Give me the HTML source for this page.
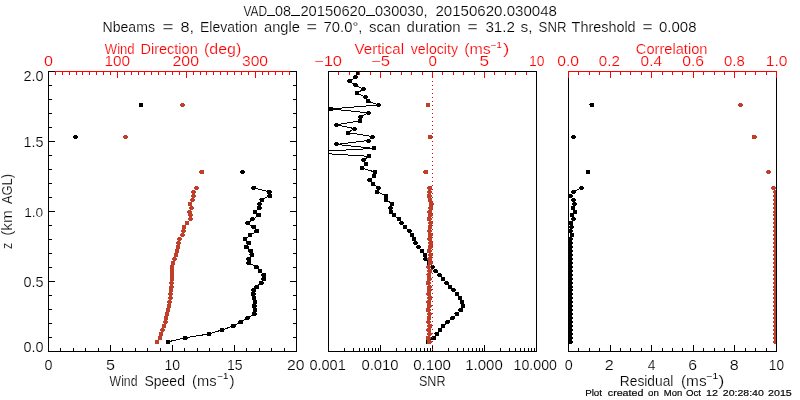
<!DOCTYPE html>
<html><head><meta charset="utf-8"><style>
html,body{margin:0;padding:0;background:#fff;}
svg{display:block;}
text{font-family:"Liberation Sans",sans-serif;}
#texts{filter:opacity(1);}
#texts text:not([stroke]){stroke:#fff;stroke-width:0.18px;}
</style></head><body>
<svg width="800" height="400" viewBox="0 0 800 400" shape-rendering="crispEdges">
<defs>
<clipPath id="c1"><rect x="48" y="71" width="249" height="281"/></clipPath>
<clipPath id="c2"><rect x="328" y="71" width="209" height="281"/></clipPath>
<clipPath id="c3"><rect x="568" y="71" width="209" height="281"/></clipPath>
</defs>
<rect width="800" height="400" fill="#fff"/>
<g id="data">
<g clip-path="url(#c1)">
<polyline points="168.00,341.80 185.40,337.85 209.10,333.91 222.00,329.96 233.20,326.01 240.60,322.06 247.50,318.12 254.40,314.17 255.00,310.22 254.40,306.28 255.00,302.33 254.00,298.38 253.10,294.44 253.75,290.49 256.90,286.54 261.25,282.60 263.75,278.65 263.75,274.70 260.00,270.75 256.25,266.81 248.75,262.86 248.75,258.91 251.90,254.97 250.60,251.02 246.25,247.07 248.75,243.12 245.00,239.18 250.00,235.23 256.90,231.28 253.75,227.34 247.50,223.39 252.50,219.44 258.75,215.50 255.00,211.55 259.40,207.60 259.50,203.66 261.90,199.71 269.75,195.76 269.40,191.81 253.60,187.87" fill="none" stroke="#000000" stroke-width="1"/>
<ellipse cx="168.00" cy="342" rx="2.6" ry="2.05" fill="#000000"/>
<ellipse cx="185.40" cy="338" rx="2.6" ry="2.05" fill="#000000"/>
<ellipse cx="209.10" cy="334" rx="2.6" ry="2.05" fill="#000000"/>
<ellipse cx="222.00" cy="330" rx="2.6" ry="2.05" fill="#000000"/>
<ellipse cx="233.20" cy="326" rx="2.6" ry="2.05" fill="#000000"/>
<ellipse cx="240.60" cy="322" rx="2.6" ry="2.05" fill="#000000"/>
<ellipse cx="247.50" cy="318" rx="2.6" ry="2.05" fill="#000000"/>
<ellipse cx="254.40" cy="314" rx="2.6" ry="2.05" fill="#000000"/>
<ellipse cx="255.00" cy="310" rx="2.6" ry="2.05" fill="#000000"/>
<ellipse cx="254.40" cy="306" rx="2.6" ry="2.05" fill="#000000"/>
<ellipse cx="255.00" cy="302" rx="2.6" ry="2.05" fill="#000000"/>
<ellipse cx="254.00" cy="298" rx="2.6" ry="2.05" fill="#000000"/>
<ellipse cx="253.10" cy="294" rx="2.6" ry="2.05" fill="#000000"/>
<ellipse cx="253.75" cy="290" rx="2.6" ry="2.05" fill="#000000"/>
<ellipse cx="256.90" cy="287" rx="2.6" ry="2.05" fill="#000000"/>
<ellipse cx="261.25" cy="283" rx="2.6" ry="2.05" fill="#000000"/>
<ellipse cx="263.75" cy="279" rx="2.6" ry="2.05" fill="#000000"/>
<ellipse cx="263.75" cy="275" rx="2.6" ry="2.05" fill="#000000"/>
<ellipse cx="260.00" cy="271" rx="2.6" ry="2.05" fill="#000000"/>
<ellipse cx="256.25" cy="267" rx="2.6" ry="2.05" fill="#000000"/>
<ellipse cx="248.75" cy="263" rx="2.6" ry="2.05" fill="#000000"/>
<ellipse cx="248.75" cy="259" rx="2.6" ry="2.05" fill="#000000"/>
<ellipse cx="251.90" cy="255" rx="2.6" ry="2.05" fill="#000000"/>
<ellipse cx="250.60" cy="251" rx="2.6" ry="2.05" fill="#000000"/>
<ellipse cx="246.25" cy="247" rx="2.6" ry="2.05" fill="#000000"/>
<ellipse cx="248.75" cy="243" rx="2.6" ry="2.05" fill="#000000"/>
<ellipse cx="245.00" cy="239" rx="2.6" ry="2.05" fill="#000000"/>
<ellipse cx="250.00" cy="235" rx="2.6" ry="2.05" fill="#000000"/>
<ellipse cx="256.90" cy="231" rx="2.6" ry="2.05" fill="#000000"/>
<ellipse cx="253.75" cy="227" rx="2.6" ry="2.05" fill="#000000"/>
<ellipse cx="247.50" cy="223" rx="2.6" ry="2.05" fill="#000000"/>
<ellipse cx="252.50" cy="219" rx="2.6" ry="2.05" fill="#000000"/>
<ellipse cx="258.75" cy="215" rx="2.6" ry="2.05" fill="#000000"/>
<ellipse cx="255.00" cy="212" rx="2.6" ry="2.05" fill="#000000"/>
<ellipse cx="259.40" cy="208" rx="2.6" ry="2.05" fill="#000000"/>
<ellipse cx="259.50" cy="204" rx="2.6" ry="2.05" fill="#000000"/>
<ellipse cx="261.90" cy="200" rx="2.6" ry="2.05" fill="#000000"/>
<ellipse cx="269.75" cy="196" rx="2.6" ry="2.05" fill="#000000"/>
<ellipse cx="269.40" cy="192" rx="2.6" ry="2.05" fill="#000000"/>
<ellipse cx="253.60" cy="188" rx="2.6" ry="2.05" fill="#000000"/>
<ellipse cx="242.50" cy="172" rx="2.6" ry="2.05" fill="#000000"/>
<ellipse cx="75.50" cy="137" rx="2.6" ry="2.05" fill="#000000"/>
<ellipse cx="141.00" cy="105" rx="2.6" ry="2.05" fill="#000000"/>
</g>
<g clip-path="url(#c1)">
<ellipse cx="157.00" cy="342" rx="2.6" ry="2.05" fill="#bf3f2a"/>
<ellipse cx="160.00" cy="338" rx="2.6" ry="2.05" fill="#bf3f2a"/>
<ellipse cx="161.00" cy="334" rx="2.6" ry="2.05" fill="#bf3f2a"/>
<ellipse cx="162.50" cy="330" rx="2.6" ry="2.05" fill="#bf3f2a"/>
<ellipse cx="164.00" cy="326" rx="2.6" ry="2.05" fill="#bf3f2a"/>
<ellipse cx="165.50" cy="322" rx="2.6" ry="2.05" fill="#bf3f2a"/>
<ellipse cx="166.00" cy="318" rx="2.6" ry="2.05" fill="#bf3f2a"/>
<ellipse cx="167.00" cy="314" rx="2.6" ry="2.05" fill="#bf3f2a"/>
<ellipse cx="168.00" cy="310" rx="2.6" ry="2.05" fill="#bf3f2a"/>
<ellipse cx="169.00" cy="306" rx="2.6" ry="2.05" fill="#bf3f2a"/>
<ellipse cx="169.50" cy="302" rx="2.6" ry="2.05" fill="#bf3f2a"/>
<ellipse cx="170.50" cy="298" rx="2.6" ry="2.05" fill="#bf3f2a"/>
<ellipse cx="170.50" cy="294" rx="2.6" ry="2.05" fill="#bf3f2a"/>
<ellipse cx="171.00" cy="290" rx="2.6" ry="2.05" fill="#bf3f2a"/>
<ellipse cx="171.50" cy="287" rx="2.6" ry="2.05" fill="#bf3f2a"/>
<ellipse cx="171.50" cy="283" rx="2.6" ry="2.05" fill="#bf3f2a"/>
<ellipse cx="172.00" cy="279" rx="2.6" ry="2.05" fill="#bf3f2a"/>
<ellipse cx="172.00" cy="275" rx="2.6" ry="2.05" fill="#bf3f2a"/>
<ellipse cx="172.00" cy="271" rx="2.6" ry="2.05" fill="#bf3f2a"/>
<ellipse cx="172.00" cy="267" rx="2.6" ry="2.05" fill="#bf3f2a"/>
<ellipse cx="173.00" cy="263" rx="2.6" ry="2.05" fill="#bf3f2a"/>
<ellipse cx="174.50" cy="259" rx="2.6" ry="2.05" fill="#bf3f2a"/>
<ellipse cx="176.00" cy="255" rx="2.6" ry="2.05" fill="#bf3f2a"/>
<ellipse cx="177.00" cy="251" rx="2.6" ry="2.05" fill="#bf3f2a"/>
<ellipse cx="178.00" cy="247" rx="2.6" ry="2.05" fill="#bf3f2a"/>
<ellipse cx="178.50" cy="243" rx="2.6" ry="2.05" fill="#bf3f2a"/>
<ellipse cx="179.50" cy="239" rx="2.6" ry="2.05" fill="#bf3f2a"/>
<ellipse cx="182.50" cy="235" rx="2.6" ry="2.05" fill="#bf3f2a"/>
<ellipse cx="183.50" cy="231" rx="2.6" ry="2.05" fill="#bf3f2a"/>
<ellipse cx="184.00" cy="227" rx="2.6" ry="2.05" fill="#bf3f2a"/>
<ellipse cx="187.00" cy="223" rx="2.6" ry="2.05" fill="#bf3f2a"/>
<ellipse cx="190.50" cy="219" rx="2.6" ry="2.05" fill="#bf3f2a"/>
<ellipse cx="190.50" cy="215" rx="2.6" ry="2.05" fill="#bf3f2a"/>
<ellipse cx="189.50" cy="212" rx="2.6" ry="2.05" fill="#bf3f2a"/>
<ellipse cx="191.50" cy="208" rx="2.6" ry="2.05" fill="#bf3f2a"/>
<ellipse cx="190.00" cy="204" rx="2.6" ry="2.05" fill="#bf3f2a"/>
<ellipse cx="192.50" cy="200" rx="2.6" ry="2.05" fill="#bf3f2a"/>
<ellipse cx="193.50" cy="196" rx="2.6" ry="2.05" fill="#bf3f2a"/>
<ellipse cx="193.50" cy="192" rx="2.6" ry="2.05" fill="#bf3f2a"/>
<ellipse cx="196.50" cy="188" rx="2.6" ry="2.05" fill="#bf3f2a"/>
<ellipse cx="201.70" cy="172" rx="2.6" ry="2.05" fill="#bf3f2a"/>
<ellipse cx="125.50" cy="137" rx="2.6" ry="2.05" fill="#bf3f2a"/>
<ellipse cx="182.50" cy="105" rx="2.6" ry="2.05" fill="#bf3f2a"/>
</g>
<g clip-path="url(#c2)">
<polyline points="428.00,341.80 433.75,337.85 436.90,333.91 440.00,329.96 443.10,326.01 447.50,322.06 452.50,318.12 456.90,314.17 460.60,310.22 463.00,306.28 462.00,302.33 460.00,298.38 457.00,294.44 453.50,290.49 450.00,286.54 446.50,282.60 443.00,278.65 439.50,274.70 435.50,270.75 432.50,266.81 429.00,262.86 425.50,258.91 425.00,254.97 422.00,251.02 418.50,247.07 415.50,243.12 414.00,239.18 412.00,235.23 409.50,231.28 405.00,227.34 401.50,223.39 399.00,219.44 394.00,215.50 391.00,211.55 390.50,207.60 392.00,203.66 386.00,199.71 386.00,195.76 377.00,191.81 378.50,187.87 373.00,183.92 369.50,179.97 374.00,176.03 375.00,172.08 362.00,168.13 366.00,164.19 363.50,160.24 369.00,156.29 305.00,152.34 374.00,148.40 336.50,144.45 368.50,140.50 372.50,136.56 348.00,132.61 354.50,128.66 336.50,124.72 360.00,120.77 360.50,116.82 368.50,112.87 331.00,108.93 378.50,104.98 368.00,101.03 365.50,97.09 357.00,93.14 363.50,89.19 355.50,85.25 349.50,81.30 355.50,77.35 358.00,73.40" fill="none" stroke="#000000" stroke-width="1"/>
<ellipse cx="428.00" cy="342" rx="2.6" ry="2.05" fill="#000000"/>
<ellipse cx="433.75" cy="338" rx="2.6" ry="2.05" fill="#000000"/>
<ellipse cx="436.90" cy="334" rx="2.6" ry="2.05" fill="#000000"/>
<ellipse cx="440.00" cy="330" rx="2.6" ry="2.05" fill="#000000"/>
<ellipse cx="443.10" cy="326" rx="2.6" ry="2.05" fill="#000000"/>
<ellipse cx="447.50" cy="322" rx="2.6" ry="2.05" fill="#000000"/>
<ellipse cx="452.50" cy="318" rx="2.6" ry="2.05" fill="#000000"/>
<ellipse cx="456.90" cy="314" rx="2.6" ry="2.05" fill="#000000"/>
<ellipse cx="460.60" cy="310" rx="2.6" ry="2.05" fill="#000000"/>
<ellipse cx="463.00" cy="306" rx="2.6" ry="2.05" fill="#000000"/>
<ellipse cx="462.00" cy="302" rx="2.6" ry="2.05" fill="#000000"/>
<ellipse cx="460.00" cy="298" rx="2.6" ry="2.05" fill="#000000"/>
<ellipse cx="457.00" cy="294" rx="2.6" ry="2.05" fill="#000000"/>
<ellipse cx="453.50" cy="290" rx="2.6" ry="2.05" fill="#000000"/>
<ellipse cx="450.00" cy="287" rx="2.6" ry="2.05" fill="#000000"/>
<ellipse cx="446.50" cy="283" rx="2.6" ry="2.05" fill="#000000"/>
<ellipse cx="443.00" cy="279" rx="2.6" ry="2.05" fill="#000000"/>
<ellipse cx="439.50" cy="275" rx="2.6" ry="2.05" fill="#000000"/>
<ellipse cx="435.50" cy="271" rx="2.6" ry="2.05" fill="#000000"/>
<ellipse cx="432.50" cy="267" rx="2.6" ry="2.05" fill="#000000"/>
<ellipse cx="429.00" cy="263" rx="2.6" ry="2.05" fill="#000000"/>
<ellipse cx="425.50" cy="259" rx="2.6" ry="2.05" fill="#000000"/>
<ellipse cx="425.00" cy="255" rx="2.6" ry="2.05" fill="#000000"/>
<ellipse cx="422.00" cy="251" rx="2.6" ry="2.05" fill="#000000"/>
<ellipse cx="418.50" cy="247" rx="2.6" ry="2.05" fill="#000000"/>
<ellipse cx="415.50" cy="243" rx="2.6" ry="2.05" fill="#000000"/>
<ellipse cx="414.00" cy="239" rx="2.6" ry="2.05" fill="#000000"/>
<ellipse cx="412.00" cy="235" rx="2.6" ry="2.05" fill="#000000"/>
<ellipse cx="409.50" cy="231" rx="2.6" ry="2.05" fill="#000000"/>
<ellipse cx="405.00" cy="227" rx="2.6" ry="2.05" fill="#000000"/>
<ellipse cx="401.50" cy="223" rx="2.6" ry="2.05" fill="#000000"/>
<ellipse cx="399.00" cy="219" rx="2.6" ry="2.05" fill="#000000"/>
<ellipse cx="394.00" cy="215" rx="2.6" ry="2.05" fill="#000000"/>
<ellipse cx="391.00" cy="212" rx="2.6" ry="2.05" fill="#000000"/>
<ellipse cx="390.50" cy="208" rx="2.6" ry="2.05" fill="#000000"/>
<ellipse cx="392.00" cy="204" rx="2.6" ry="2.05" fill="#000000"/>
<ellipse cx="386.00" cy="200" rx="2.6" ry="2.05" fill="#000000"/>
<ellipse cx="386.00" cy="196" rx="2.6" ry="2.05" fill="#000000"/>
<ellipse cx="377.00" cy="192" rx="2.6" ry="2.05" fill="#000000"/>
<ellipse cx="378.50" cy="188" rx="2.6" ry="2.05" fill="#000000"/>
<ellipse cx="373.00" cy="184" rx="2.6" ry="2.05" fill="#000000"/>
<ellipse cx="369.50" cy="180" rx="2.6" ry="2.05" fill="#000000"/>
<ellipse cx="374.00" cy="176" rx="2.6" ry="2.05" fill="#000000"/>
<ellipse cx="375.00" cy="172" rx="2.6" ry="2.05" fill="#000000"/>
<ellipse cx="362.00" cy="168" rx="2.6" ry="2.05" fill="#000000"/>
<ellipse cx="366.00" cy="164" rx="2.6" ry="2.05" fill="#000000"/>
<ellipse cx="363.50" cy="160" rx="2.6" ry="2.05" fill="#000000"/>
<ellipse cx="369.00" cy="156" rx="2.6" ry="2.05" fill="#000000"/>
<ellipse cx="305.00" cy="152" rx="2.6" ry="2.05" fill="#000000"/>
<ellipse cx="374.00" cy="148" rx="2.6" ry="2.05" fill="#000000"/>
<ellipse cx="336.50" cy="144" rx="2.6" ry="2.05" fill="#000000"/>
<ellipse cx="368.50" cy="141" rx="2.6" ry="2.05" fill="#000000"/>
<ellipse cx="372.50" cy="137" rx="2.6" ry="2.05" fill="#000000"/>
<ellipse cx="348.00" cy="133" rx="2.6" ry="2.05" fill="#000000"/>
<ellipse cx="354.50" cy="129" rx="2.6" ry="2.05" fill="#000000"/>
<ellipse cx="336.50" cy="125" rx="2.6" ry="2.05" fill="#000000"/>
<ellipse cx="360.00" cy="121" rx="2.6" ry="2.05" fill="#000000"/>
<ellipse cx="360.50" cy="117" rx="2.6" ry="2.05" fill="#000000"/>
<ellipse cx="368.50" cy="113" rx="2.6" ry="2.05" fill="#000000"/>
<ellipse cx="331.00" cy="109" rx="2.6" ry="2.05" fill="#000000"/>
<ellipse cx="378.50" cy="105" rx="2.6" ry="2.05" fill="#000000"/>
<ellipse cx="368.00" cy="101" rx="2.6" ry="2.05" fill="#000000"/>
<ellipse cx="365.50" cy="97" rx="2.6" ry="2.05" fill="#000000"/>
<ellipse cx="357.00" cy="93" rx="2.6" ry="2.05" fill="#000000"/>
<ellipse cx="363.50" cy="89" rx="2.6" ry="2.05" fill="#000000"/>
<ellipse cx="355.50" cy="85" rx="2.6" ry="2.05" fill="#000000"/>
<ellipse cx="349.50" cy="81" rx="2.6" ry="2.05" fill="#000000"/>
<ellipse cx="355.50" cy="77" rx="2.6" ry="2.05" fill="#000000"/>
<ellipse cx="358.00" cy="73" rx="2.6" ry="2.05" fill="#000000"/>
</g>
<g clip-path="url(#c2)">
<ellipse cx="429.30" cy="342" rx="2.6" ry="2.05" fill="#bf3f2a"/>
<ellipse cx="428.40" cy="338" rx="2.6" ry="2.05" fill="#bf3f2a"/>
<ellipse cx="429.50" cy="334" rx="2.6" ry="2.05" fill="#bf3f2a"/>
<ellipse cx="428.80" cy="330" rx="2.6" ry="2.05" fill="#bf3f2a"/>
<ellipse cx="429.60" cy="326" rx="2.6" ry="2.05" fill="#bf3f2a"/>
<ellipse cx="428.50" cy="322" rx="2.6" ry="2.05" fill="#bf3f2a"/>
<ellipse cx="429.10" cy="318" rx="2.6" ry="2.05" fill="#bf3f2a"/>
<ellipse cx="429.50" cy="314" rx="2.6" ry="2.05" fill="#bf3f2a"/>
<ellipse cx="428.40" cy="310" rx="2.6" ry="2.05" fill="#bf3f2a"/>
<ellipse cx="429.30" cy="306" rx="2.6" ry="2.05" fill="#bf3f2a"/>
<ellipse cx="428.70" cy="302" rx="2.6" ry="2.05" fill="#bf3f2a"/>
<ellipse cx="429.60" cy="298" rx="2.6" ry="2.05" fill="#bf3f2a"/>
<ellipse cx="428.60" cy="294" rx="2.6" ry="2.05" fill="#bf3f2a"/>
<ellipse cx="429.20" cy="290" rx="2.6" ry="2.05" fill="#bf3f2a"/>
<ellipse cx="429.50" cy="287" rx="2.6" ry="2.05" fill="#bf3f2a"/>
<ellipse cx="428.40" cy="283" rx="2.6" ry="2.05" fill="#bf3f2a"/>
<ellipse cx="429.40" cy="279" rx="2.6" ry="2.05" fill="#bf3f2a"/>
<ellipse cx="428.90" cy="275" rx="2.6" ry="2.05" fill="#bf3f2a"/>
<ellipse cx="429.60" cy="271" rx="2.6" ry="2.05" fill="#bf3f2a"/>
<ellipse cx="428.50" cy="267" rx="2.6" ry="2.05" fill="#bf3f2a"/>
<ellipse cx="430.30" cy="263" rx="2.6" ry="2.05" fill="#bf3f2a"/>
<ellipse cx="429.60" cy="259" rx="2.6" ry="2.05" fill="#bf3f2a"/>
<ellipse cx="430.50" cy="255" rx="2.6" ry="2.05" fill="#bf3f2a"/>
<ellipse cx="429.40" cy="251" rx="2.6" ry="2.05" fill="#bf3f2a"/>
<ellipse cx="430.20" cy="247" rx="2.6" ry="2.05" fill="#bf3f2a"/>
<ellipse cx="430.60" cy="243" rx="2.6" ry="2.05" fill="#bf3f2a"/>
<ellipse cx="429.70" cy="239" rx="2.6" ry="2.05" fill="#bf3f2a"/>
<ellipse cx="430.40" cy="235" rx="2.6" ry="2.05" fill="#bf3f2a"/>
<ellipse cx="429.50" cy="231" rx="2.6" ry="2.05" fill="#bf3f2a"/>
<ellipse cx="430.10" cy="227" rx="2.6" ry="2.05" fill="#bf3f2a"/>
<ellipse cx="430.50" cy="223" rx="2.6" ry="2.05" fill="#bf3f2a"/>
<ellipse cx="429.40" cy="219" rx="2.6" ry="2.05" fill="#bf3f2a"/>
<ellipse cx="430.30" cy="215" rx="2.6" ry="2.05" fill="#bf3f2a"/>
<ellipse cx="429.80" cy="212" rx="2.6" ry="2.05" fill="#bf3f2a"/>
<ellipse cx="430.60" cy="208" rx="2.6" ry="2.05" fill="#bf3f2a"/>
<ellipse cx="431.25" cy="204" rx="2.6" ry="2.05" fill="#bf3f2a"/>
<ellipse cx="430.00" cy="200" rx="2.6" ry="2.05" fill="#bf3f2a"/>
<ellipse cx="429.40" cy="196" rx="2.6" ry="2.05" fill="#bf3f2a"/>
<ellipse cx="429.50" cy="192" rx="2.6" ry="2.05" fill="#bf3f2a"/>
<ellipse cx="429.60" cy="188" rx="2.6" ry="2.05" fill="#bf3f2a"/>
<ellipse cx="425.60" cy="172" rx="2.6" ry="2.05" fill="#bf3f2a"/>
<ellipse cx="430.20" cy="137" rx="2.6" ry="2.05" fill="#bf3f2a"/>
<ellipse cx="428.00" cy="105" rx="2.6" ry="2.05" fill="#bf3f2a"/>
</g>
<g clip-path="url(#c3)">
<polyline points="570.50,341.80 570.50,337.85 570.50,333.91 570.50,329.96 570.50,326.01 570.50,322.06 570.50,318.12 570.50,314.17 570.50,310.22 570.50,306.28 570.50,302.33 570.50,298.38 570.50,294.44 570.50,290.49 570.50,286.54 570.50,282.60 570.50,278.65 570.50,274.70 570.50,270.75 570.50,266.81 570.50,262.86 570.50,258.91 570.50,254.97 570.50,251.02 570.50,247.07 570.50,243.12 570.50,239.18 572.00,235.23 570.50,231.28 571.50,227.34 571.00,223.39 573.50,219.44 572.00,215.50 575.00,211.55 573.00,207.60 574.50,203.66 573.50,199.71 570.50,195.76 573.50,191.81 581.50,187.87" fill="none" stroke="#000000" stroke-width="1"/>
<ellipse cx="570.50" cy="342" rx="2.6" ry="2.05" fill="#000000"/>
<ellipse cx="570.50" cy="338" rx="2.6" ry="2.05" fill="#000000"/>
<ellipse cx="570.50" cy="334" rx="2.6" ry="2.05" fill="#000000"/>
<ellipse cx="570.50" cy="330" rx="2.6" ry="2.05" fill="#000000"/>
<ellipse cx="570.50" cy="326" rx="2.6" ry="2.05" fill="#000000"/>
<ellipse cx="570.50" cy="322" rx="2.6" ry="2.05" fill="#000000"/>
<ellipse cx="570.50" cy="318" rx="2.6" ry="2.05" fill="#000000"/>
<ellipse cx="570.50" cy="314" rx="2.6" ry="2.05" fill="#000000"/>
<ellipse cx="570.50" cy="310" rx="2.6" ry="2.05" fill="#000000"/>
<ellipse cx="570.50" cy="306" rx="2.6" ry="2.05" fill="#000000"/>
<ellipse cx="570.50" cy="302" rx="2.6" ry="2.05" fill="#000000"/>
<ellipse cx="570.50" cy="298" rx="2.6" ry="2.05" fill="#000000"/>
<ellipse cx="570.50" cy="294" rx="2.6" ry="2.05" fill="#000000"/>
<ellipse cx="570.50" cy="290" rx="2.6" ry="2.05" fill="#000000"/>
<ellipse cx="570.50" cy="287" rx="2.6" ry="2.05" fill="#000000"/>
<ellipse cx="570.50" cy="283" rx="2.6" ry="2.05" fill="#000000"/>
<ellipse cx="570.50" cy="279" rx="2.6" ry="2.05" fill="#000000"/>
<ellipse cx="570.50" cy="275" rx="2.6" ry="2.05" fill="#000000"/>
<ellipse cx="570.50" cy="271" rx="2.6" ry="2.05" fill="#000000"/>
<ellipse cx="570.50" cy="267" rx="2.6" ry="2.05" fill="#000000"/>
<ellipse cx="570.50" cy="263" rx="2.6" ry="2.05" fill="#000000"/>
<ellipse cx="570.50" cy="259" rx="2.6" ry="2.05" fill="#000000"/>
<ellipse cx="570.50" cy="255" rx="2.6" ry="2.05" fill="#000000"/>
<ellipse cx="570.50" cy="251" rx="2.6" ry="2.05" fill="#000000"/>
<ellipse cx="570.50" cy="247" rx="2.6" ry="2.05" fill="#000000"/>
<ellipse cx="570.50" cy="243" rx="2.6" ry="2.05" fill="#000000"/>
<ellipse cx="570.50" cy="239" rx="2.6" ry="2.05" fill="#000000"/>
<ellipse cx="572.00" cy="235" rx="2.6" ry="2.05" fill="#000000"/>
<ellipse cx="570.50" cy="231" rx="2.6" ry="2.05" fill="#000000"/>
<ellipse cx="571.50" cy="227" rx="2.6" ry="2.05" fill="#000000"/>
<ellipse cx="571.00" cy="223" rx="2.6" ry="2.05" fill="#000000"/>
<ellipse cx="573.50" cy="219" rx="2.6" ry="2.05" fill="#000000"/>
<ellipse cx="572.00" cy="215" rx="2.6" ry="2.05" fill="#000000"/>
<ellipse cx="575.00" cy="212" rx="2.6" ry="2.05" fill="#000000"/>
<ellipse cx="573.00" cy="208" rx="2.6" ry="2.05" fill="#000000"/>
<ellipse cx="574.50" cy="204" rx="2.6" ry="2.05" fill="#000000"/>
<ellipse cx="573.50" cy="200" rx="2.6" ry="2.05" fill="#000000"/>
<ellipse cx="570.50" cy="196" rx="2.6" ry="2.05" fill="#000000"/>
<ellipse cx="573.50" cy="192" rx="2.6" ry="2.05" fill="#000000"/>
<ellipse cx="581.50" cy="188" rx="2.6" ry="2.05" fill="#000000"/>
<ellipse cx="588.00" cy="172" rx="2.6" ry="2.05" fill="#000000"/>
<ellipse cx="573.50" cy="137" rx="2.6" ry="2.05" fill="#000000"/>
<ellipse cx="591.90" cy="105" rx="2.6" ry="2.05" fill="#000000"/>
</g>
<g clip-path="url(#c3)">
<ellipse cx="775.60" cy="342" rx="2.6" ry="2.05" fill="#bf3f2a"/>
<ellipse cx="775.60" cy="338" rx="2.6" ry="2.05" fill="#bf3f2a"/>
<ellipse cx="775.60" cy="334" rx="2.6" ry="2.05" fill="#bf3f2a"/>
<ellipse cx="775.60" cy="330" rx="2.6" ry="2.05" fill="#bf3f2a"/>
<ellipse cx="775.60" cy="326" rx="2.6" ry="2.05" fill="#bf3f2a"/>
<ellipse cx="775.60" cy="322" rx="2.6" ry="2.05" fill="#bf3f2a"/>
<ellipse cx="775.60" cy="318" rx="2.6" ry="2.05" fill="#bf3f2a"/>
<ellipse cx="775.60" cy="314" rx="2.6" ry="2.05" fill="#bf3f2a"/>
<ellipse cx="775.60" cy="310" rx="2.6" ry="2.05" fill="#bf3f2a"/>
<ellipse cx="775.60" cy="306" rx="2.6" ry="2.05" fill="#bf3f2a"/>
<ellipse cx="775.60" cy="302" rx="2.6" ry="2.05" fill="#bf3f2a"/>
<ellipse cx="775.60" cy="298" rx="2.6" ry="2.05" fill="#bf3f2a"/>
<ellipse cx="775.60" cy="294" rx="2.6" ry="2.05" fill="#bf3f2a"/>
<ellipse cx="775.60" cy="290" rx="2.6" ry="2.05" fill="#bf3f2a"/>
<ellipse cx="775.60" cy="287" rx="2.6" ry="2.05" fill="#bf3f2a"/>
<ellipse cx="775.60" cy="283" rx="2.6" ry="2.05" fill="#bf3f2a"/>
<ellipse cx="775.60" cy="279" rx="2.6" ry="2.05" fill="#bf3f2a"/>
<ellipse cx="775.60" cy="275" rx="2.6" ry="2.05" fill="#bf3f2a"/>
<ellipse cx="775.60" cy="271" rx="2.6" ry="2.05" fill="#bf3f2a"/>
<ellipse cx="775.60" cy="267" rx="2.6" ry="2.05" fill="#bf3f2a"/>
<ellipse cx="775.60" cy="263" rx="2.6" ry="2.05" fill="#bf3f2a"/>
<ellipse cx="775.60" cy="259" rx="2.6" ry="2.05" fill="#bf3f2a"/>
<ellipse cx="775.60" cy="255" rx="2.6" ry="2.05" fill="#bf3f2a"/>
<ellipse cx="775.60" cy="251" rx="2.6" ry="2.05" fill="#bf3f2a"/>
<ellipse cx="775.60" cy="247" rx="2.6" ry="2.05" fill="#bf3f2a"/>
<ellipse cx="775.60" cy="243" rx="2.6" ry="2.05" fill="#bf3f2a"/>
<ellipse cx="775.60" cy="239" rx="2.6" ry="2.05" fill="#bf3f2a"/>
<ellipse cx="775.60" cy="235" rx="2.6" ry="2.05" fill="#bf3f2a"/>
<ellipse cx="775.60" cy="231" rx="2.6" ry="2.05" fill="#bf3f2a"/>
<ellipse cx="775.60" cy="227" rx="2.6" ry="2.05" fill="#bf3f2a"/>
<ellipse cx="775.60" cy="223" rx="2.6" ry="2.05" fill="#bf3f2a"/>
<ellipse cx="775.60" cy="219" rx="2.6" ry="2.05" fill="#bf3f2a"/>
<ellipse cx="775.60" cy="215" rx="2.6" ry="2.05" fill="#bf3f2a"/>
<ellipse cx="775.60" cy="212" rx="2.6" ry="2.05" fill="#bf3f2a"/>
<ellipse cx="775.60" cy="208" rx="2.6" ry="2.05" fill="#bf3f2a"/>
<ellipse cx="775.60" cy="204" rx="2.6" ry="2.05" fill="#bf3f2a"/>
<ellipse cx="775.60" cy="200" rx="2.6" ry="2.05" fill="#bf3f2a"/>
<ellipse cx="775.60" cy="196" rx="2.6" ry="2.05" fill="#bf3f2a"/>
<ellipse cx="775.60" cy="192" rx="2.6" ry="2.05" fill="#bf3f2a"/>
<ellipse cx="773.50" cy="188" rx="2.6" ry="2.05" fill="#bf3f2a"/>
<ellipse cx="768.50" cy="172" rx="2.6" ry="2.05" fill="#bf3f2a"/>
<ellipse cx="754.20" cy="137" rx="2.6" ry="2.05" fill="#bf3f2a"/>
<ellipse cx="740.50" cy="105" rx="2.6" ry="2.05" fill="#bf3f2a"/>
</g>
</g>
<g id="axes">
<rect x="48" y="71" width="1" height="281" fill="#000000"/>
<rect x="296" y="71" width="1" height="281" fill="#000000"/>
<rect x="48" y="351" width="249" height="1" fill="#000000"/>
<rect x="48" y="71" width="6" height="1" fill="#000000"/>
<rect x="54" y="71" width="237" height="1" fill="#ff0000"/>
<rect x="291" y="71" width="6" height="1" fill="#000000"/>
<rect x="49" y="351" width="6" height="1" fill="#000000"/>
<rect x="290" y="351" width="6" height="1" fill="#000000"/>
<rect x="49" y="337" width="3" height="1" fill="#000000"/>
<rect x="293" y="337" width="3" height="1" fill="#000000"/>
<rect x="49" y="323" width="3" height="1" fill="#000000"/>
<rect x="293" y="323" width="3" height="1" fill="#000000"/>
<rect x="49" y="309" width="3" height="1" fill="#000000"/>
<rect x="293" y="309" width="3" height="1" fill="#000000"/>
<rect x="49" y="295" width="3" height="1" fill="#000000"/>
<rect x="293" y="295" width="3" height="1" fill="#000000"/>
<rect x="49" y="281" width="6" height="1" fill="#000000"/>
<rect x="290" y="281" width="6" height="1" fill="#000000"/>
<rect x="49" y="267" width="3" height="1" fill="#000000"/>
<rect x="293" y="267" width="3" height="1" fill="#000000"/>
<rect x="49" y="253" width="3" height="1" fill="#000000"/>
<rect x="293" y="253" width="3" height="1" fill="#000000"/>
<rect x="49" y="239" width="3" height="1" fill="#000000"/>
<rect x="293" y="239" width="3" height="1" fill="#000000"/>
<rect x="49" y="225" width="3" height="1" fill="#000000"/>
<rect x="293" y="225" width="3" height="1" fill="#000000"/>
<rect x="49" y="211" width="6" height="1" fill="#000000"/>
<rect x="290" y="211" width="6" height="1" fill="#000000"/>
<rect x="49" y="197" width="3" height="1" fill="#000000"/>
<rect x="293" y="197" width="3" height="1" fill="#000000"/>
<rect x="49" y="183" width="3" height="1" fill="#000000"/>
<rect x="293" y="183" width="3" height="1" fill="#000000"/>
<rect x="49" y="169" width="3" height="1" fill="#000000"/>
<rect x="293" y="169" width="3" height="1" fill="#000000"/>
<rect x="49" y="155" width="3" height="1" fill="#000000"/>
<rect x="293" y="155" width="3" height="1" fill="#000000"/>
<rect x="49" y="141" width="6" height="1" fill="#000000"/>
<rect x="290" y="141" width="6" height="1" fill="#000000"/>
<rect x="49" y="127" width="3" height="1" fill="#000000"/>
<rect x="293" y="127" width="3" height="1" fill="#000000"/>
<rect x="49" y="113" width="3" height="1" fill="#000000"/>
<rect x="293" y="113" width="3" height="1" fill="#000000"/>
<rect x="49" y="99" width="3" height="1" fill="#000000"/>
<rect x="293" y="99" width="3" height="1" fill="#000000"/>
<rect x="49" y="85" width="3" height="1" fill="#000000"/>
<rect x="293" y="85" width="3" height="1" fill="#000000"/>
<rect x="49" y="71" width="6" height="1" fill="#000000"/>
<rect x="290" y="71" width="6" height="1" fill="#000000"/>
<rect x="48" y="345" width="1" height="6" fill="#000000"/>
<rect x="60" y="348" width="1" height="3" fill="#000000"/>
<rect x="73" y="348" width="1" height="3" fill="#000000"/>
<rect x="85" y="348" width="1" height="3" fill="#000000"/>
<rect x="98" y="348" width="1" height="3" fill="#000000"/>
<rect x="110" y="345" width="1" height="6" fill="#000000"/>
<rect x="122" y="348" width="1" height="3" fill="#000000"/>
<rect x="135" y="348" width="1" height="3" fill="#000000"/>
<rect x="147" y="348" width="1" height="3" fill="#000000"/>
<rect x="160" y="348" width="1" height="3" fill="#000000"/>
<rect x="172" y="345" width="1" height="6" fill="#000000"/>
<rect x="184" y="348" width="1" height="3" fill="#000000"/>
<rect x="197" y="348" width="1" height="3" fill="#000000"/>
<rect x="209" y="348" width="1" height="3" fill="#000000"/>
<rect x="222" y="348" width="1" height="3" fill="#000000"/>
<rect x="234" y="345" width="1" height="6" fill="#000000"/>
<rect x="246" y="348" width="1" height="3" fill="#000000"/>
<rect x="259" y="348" width="1" height="3" fill="#000000"/>
<rect x="271" y="348" width="1" height="3" fill="#000000"/>
<rect x="284" y="348" width="1" height="3" fill="#000000"/>
<rect x="296" y="345" width="1" height="6" fill="#000000"/>
<rect x="55" y="72" width="1" height="3" fill="#ff0000"/>
<rect x="62" y="72" width="1" height="3" fill="#ff0000"/>
<rect x="69" y="72" width="1" height="3" fill="#ff0000"/>
<rect x="76" y="72" width="1" height="3" fill="#ff0000"/>
<rect x="82" y="72" width="1" height="3" fill="#ff0000"/>
<rect x="89" y="72" width="1" height="3" fill="#ff0000"/>
<rect x="96" y="72" width="1" height="3" fill="#ff0000"/>
<rect x="103" y="72" width="1" height="3" fill="#ff0000"/>
<rect x="110" y="72" width="1" height="3" fill="#ff0000"/>
<rect x="117" y="72" width="1" height="6" fill="#ff0000"/>
<rect x="124" y="72" width="1" height="3" fill="#ff0000"/>
<rect x="131" y="72" width="1" height="3" fill="#ff0000"/>
<rect x="138" y="72" width="1" height="3" fill="#ff0000"/>
<rect x="144" y="72" width="1" height="3" fill="#ff0000"/>
<rect x="151" y="72" width="1" height="3" fill="#ff0000"/>
<rect x="158" y="72" width="1" height="3" fill="#ff0000"/>
<rect x="165" y="72" width="1" height="3" fill="#ff0000"/>
<rect x="172" y="72" width="1" height="3" fill="#ff0000"/>
<rect x="179" y="72" width="1" height="3" fill="#ff0000"/>
<rect x="186" y="72" width="1" height="6" fill="#ff0000"/>
<rect x="193" y="72" width="1" height="3" fill="#ff0000"/>
<rect x="200" y="72" width="1" height="3" fill="#ff0000"/>
<rect x="206" y="72" width="1" height="3" fill="#ff0000"/>
<rect x="213" y="72" width="1" height="3" fill="#ff0000"/>
<rect x="220" y="72" width="1" height="3" fill="#ff0000"/>
<rect x="227" y="72" width="1" height="3" fill="#ff0000"/>
<rect x="234" y="72" width="1" height="3" fill="#ff0000"/>
<rect x="241" y="72" width="1" height="3" fill="#ff0000"/>
<rect x="248" y="72" width="1" height="3" fill="#ff0000"/>
<rect x="255" y="72" width="1" height="6" fill="#ff0000"/>
<rect x="262" y="72" width="1" height="3" fill="#ff0000"/>
<rect x="268" y="72" width="1" height="3" fill="#ff0000"/>
<rect x="275" y="72" width="1" height="3" fill="#ff0000"/>
<rect x="282" y="72" width="1" height="3" fill="#ff0000"/>
<rect x="289" y="72" width="1" height="3" fill="#ff0000"/>
<rect x="328" y="71" width="1" height="281" fill="#000000"/>
<rect x="536" y="71" width="1" height="281" fill="#000000"/>
<rect x="328" y="351" width="209" height="1" fill="#000000"/>
<rect x="328" y="71" width="209" height="1" fill="#000000"/>
<rect x="344" y="348" width="1" height="3" fill="#000000"/>
<rect x="353" y="348" width="1" height="3" fill="#000000"/>
<rect x="359" y="348" width="1" height="3" fill="#000000"/>
<rect x="364" y="348" width="1" height="3" fill="#000000"/>
<rect x="368" y="348" width="1" height="3" fill="#000000"/>
<rect x="372" y="348" width="1" height="3" fill="#000000"/>
<rect x="375" y="348" width="1" height="3" fill="#000000"/>
<rect x="378" y="348" width="1" height="3" fill="#000000"/>
<rect x="380" y="345" width="1" height="6" fill="#000000"/>
<rect x="396" y="348" width="1" height="3" fill="#000000"/>
<rect x="405" y="348" width="1" height="3" fill="#000000"/>
<rect x="411" y="348" width="1" height="3" fill="#000000"/>
<rect x="416" y="348" width="1" height="3" fill="#000000"/>
<rect x="420" y="348" width="1" height="3" fill="#000000"/>
<rect x="424" y="348" width="1" height="3" fill="#000000"/>
<rect x="427" y="348" width="1" height="3" fill="#000000"/>
<rect x="430" y="348" width="1" height="3" fill="#000000"/>
<rect x="432" y="345" width="1" height="6" fill="#000000"/>
<rect x="448" y="348" width="1" height="3" fill="#000000"/>
<rect x="457" y="348" width="1" height="3" fill="#000000"/>
<rect x="463" y="348" width="1" height="3" fill="#000000"/>
<rect x="468" y="348" width="1" height="3" fill="#000000"/>
<rect x="472" y="348" width="1" height="3" fill="#000000"/>
<rect x="476" y="348" width="1" height="3" fill="#000000"/>
<rect x="479" y="348" width="1" height="3" fill="#000000"/>
<rect x="482" y="348" width="1" height="3" fill="#000000"/>
<rect x="484" y="345" width="1" height="6" fill="#000000"/>
<rect x="500" y="348" width="1" height="3" fill="#000000"/>
<rect x="509" y="348" width="1" height="3" fill="#000000"/>
<rect x="515" y="348" width="1" height="3" fill="#000000"/>
<rect x="520" y="348" width="1" height="3" fill="#000000"/>
<rect x="524" y="348" width="1" height="3" fill="#000000"/>
<rect x="528" y="348" width="1" height="3" fill="#000000"/>
<rect x="531" y="348" width="1" height="3" fill="#000000"/>
<rect x="534" y="348" width="1" height="3" fill="#000000"/>
<rect x="536" y="345" width="1" height="6" fill="#000000"/>
<rect x="338" y="72" width="1" height="3" fill="#ff0000"/>
<rect x="349" y="72" width="1" height="3" fill="#ff0000"/>
<rect x="359" y="72" width="1" height="3" fill="#ff0000"/>
<rect x="370" y="72" width="1" height="3" fill="#ff0000"/>
<rect x="380" y="72" width="1" height="6" fill="#ff0000"/>
<rect x="390" y="72" width="1" height="3" fill="#ff0000"/>
<rect x="401" y="72" width="1" height="3" fill="#ff0000"/>
<rect x="411" y="72" width="1" height="3" fill="#ff0000"/>
<rect x="422" y="72" width="1" height="3" fill="#ff0000"/>
<rect x="432" y="72" width="1" height="6" fill="#ff0000"/>
<rect x="442" y="72" width="1" height="3" fill="#ff0000"/>
<rect x="453" y="72" width="1" height="3" fill="#ff0000"/>
<rect x="463" y="72" width="1" height="3" fill="#ff0000"/>
<rect x="474" y="72" width="1" height="3" fill="#ff0000"/>
<rect x="484" y="72" width="1" height="6" fill="#ff0000"/>
<rect x="494" y="72" width="1" height="3" fill="#ff0000"/>
<rect x="505" y="72" width="1" height="3" fill="#ff0000"/>
<rect x="515" y="72" width="1" height="3" fill="#ff0000"/>
<rect x="526" y="72" width="1" height="3" fill="#ff0000"/>
<rect x="432" y="73" width="1" height="1" fill="#ff0000"/>
<rect x="432" y="77" width="1" height="1" fill="#ff0000"/>
<rect x="432" y="81" width="1" height="1" fill="#ff0000"/>
<rect x="432" y="85" width="1" height="1" fill="#ff0000"/>
<rect x="432" y="89" width="1" height="1" fill="#ff0000"/>
<rect x="432" y="93" width="1" height="1" fill="#ff0000"/>
<rect x="432" y="97" width="1" height="1" fill="#ff0000"/>
<rect x="432" y="101" width="1" height="1" fill="#ff0000"/>
<rect x="432" y="105" width="1" height="1" fill="#ff0000"/>
<rect x="432" y="109" width="1" height="1" fill="#ff0000"/>
<rect x="432" y="113" width="1" height="1" fill="#ff0000"/>
<rect x="432" y="117" width="1" height="1" fill="#ff0000"/>
<rect x="432" y="121" width="1" height="1" fill="#ff0000"/>
<rect x="432" y="125" width="1" height="1" fill="#ff0000"/>
<rect x="432" y="129" width="1" height="1" fill="#ff0000"/>
<rect x="432" y="133" width="1" height="1" fill="#ff0000"/>
<rect x="432" y="137" width="1" height="1" fill="#ff0000"/>
<rect x="432" y="141" width="1" height="1" fill="#ff0000"/>
<rect x="432" y="145" width="1" height="1" fill="#ff0000"/>
<rect x="432" y="149" width="1" height="1" fill="#ff0000"/>
<rect x="432" y="153" width="1" height="1" fill="#ff0000"/>
<rect x="432" y="157" width="1" height="1" fill="#ff0000"/>
<rect x="432" y="161" width="1" height="1" fill="#ff0000"/>
<rect x="432" y="165" width="1" height="1" fill="#ff0000"/>
<rect x="432" y="169" width="1" height="1" fill="#ff0000"/>
<rect x="432" y="173" width="1" height="1" fill="#ff0000"/>
<rect x="432" y="177" width="1" height="1" fill="#ff0000"/>
<rect x="432" y="181" width="1" height="1" fill="#ff0000"/>
<rect x="432" y="185" width="1" height="1" fill="#ff0000"/>
<rect x="432" y="189" width="1" height="1" fill="#ff0000"/>
<rect x="432" y="193" width="1" height="1" fill="#ff0000"/>
<rect x="432" y="197" width="1" height="1" fill="#ff0000"/>
<rect x="432" y="201" width="1" height="1" fill="#ff0000"/>
<rect x="432" y="205" width="1" height="1" fill="#ff0000"/>
<rect x="432" y="209" width="1" height="1" fill="#ff0000"/>
<rect x="432" y="213" width="1" height="1" fill="#ff0000"/>
<rect x="432" y="217" width="1" height="1" fill="#ff0000"/>
<rect x="432" y="221" width="1" height="1" fill="#ff0000"/>
<rect x="432" y="225" width="1" height="1" fill="#ff0000"/>
<rect x="432" y="229" width="1" height="1" fill="#ff0000"/>
<rect x="432" y="233" width="1" height="1" fill="#ff0000"/>
<rect x="432" y="237" width="1" height="1" fill="#ff0000"/>
<rect x="432" y="241" width="1" height="1" fill="#ff0000"/>
<rect x="432" y="245" width="1" height="1" fill="#ff0000"/>
<rect x="432" y="249" width="1" height="1" fill="#ff0000"/>
<rect x="432" y="253" width="1" height="1" fill="#ff0000"/>
<rect x="432" y="257" width="1" height="1" fill="#ff0000"/>
<rect x="432" y="261" width="1" height="1" fill="#ff0000"/>
<rect x="432" y="265" width="1" height="1" fill="#ff0000"/>
<rect x="432" y="269" width="1" height="1" fill="#ff0000"/>
<rect x="432" y="273" width="1" height="1" fill="#ff0000"/>
<rect x="432" y="277" width="1" height="1" fill="#ff0000"/>
<rect x="432" y="281" width="1" height="1" fill="#ff0000"/>
<rect x="432" y="285" width="1" height="1" fill="#ff0000"/>
<rect x="432" y="289" width="1" height="1" fill="#ff0000"/>
<rect x="432" y="293" width="1" height="1" fill="#ff0000"/>
<rect x="432" y="297" width="1" height="1" fill="#ff0000"/>
<rect x="432" y="301" width="1" height="1" fill="#ff0000"/>
<rect x="432" y="305" width="1" height="1" fill="#ff0000"/>
<rect x="432" y="309" width="1" height="1" fill="#ff0000"/>
<rect x="432" y="313" width="1" height="1" fill="#ff0000"/>
<rect x="432" y="317" width="1" height="1" fill="#ff0000"/>
<rect x="432" y="321" width="1" height="1" fill="#ff0000"/>
<rect x="432" y="325" width="1" height="1" fill="#ff0000"/>
<rect x="432" y="329" width="1" height="1" fill="#ff0000"/>
<rect x="432" y="333" width="1" height="1" fill="#ff0000"/>
<rect x="432" y="337" width="1" height="1" fill="#ff0000"/>
<rect x="432" y="341" width="1" height="1" fill="#ff0000"/>
<rect x="432" y="345" width="1" height="1" fill="#ff0000"/>
<rect x="432" y="349" width="1" height="1" fill="#ff0000"/>
<rect x="568" y="71" width="1" height="281" fill="#000000"/>
<rect x="776" y="71" width="1" height="281" fill="#000000"/>
<rect x="568" y="351" width="209" height="1" fill="#000000"/>
<rect x="568" y="71" width="209" height="1" fill="#ff0000"/>
<rect x="568" y="345" width="1" height="6" fill="#000000"/>
<rect x="578" y="348" width="1" height="3" fill="#000000"/>
<rect x="589" y="348" width="1" height="3" fill="#000000"/>
<rect x="599" y="348" width="1" height="3" fill="#000000"/>
<rect x="610" y="345" width="1" height="6" fill="#000000"/>
<rect x="620" y="348" width="1" height="3" fill="#000000"/>
<rect x="630" y="348" width="1" height="3" fill="#000000"/>
<rect x="641" y="348" width="1" height="3" fill="#000000"/>
<rect x="651" y="345" width="1" height="6" fill="#000000"/>
<rect x="662" y="348" width="1" height="3" fill="#000000"/>
<rect x="672" y="348" width="1" height="3" fill="#000000"/>
<rect x="682" y="348" width="1" height="3" fill="#000000"/>
<rect x="693" y="345" width="1" height="6" fill="#000000"/>
<rect x="703" y="348" width="1" height="3" fill="#000000"/>
<rect x="714" y="348" width="1" height="3" fill="#000000"/>
<rect x="724" y="348" width="1" height="3" fill="#000000"/>
<rect x="734" y="345" width="1" height="6" fill="#000000"/>
<rect x="745" y="348" width="1" height="3" fill="#000000"/>
<rect x="755" y="348" width="1" height="3" fill="#000000"/>
<rect x="766" y="348" width="1" height="3" fill="#000000"/>
<rect x="776" y="345" width="1" height="6" fill="#000000"/>
<rect x="568" y="72" width="1" height="6" fill="#ff0000"/>
<rect x="578" y="72" width="1" height="3" fill="#ff0000"/>
<rect x="589" y="72" width="1" height="3" fill="#ff0000"/>
<rect x="599" y="72" width="1" height="3" fill="#ff0000"/>
<rect x="610" y="72" width="1" height="6" fill="#ff0000"/>
<rect x="620" y="72" width="1" height="3" fill="#ff0000"/>
<rect x="630" y="72" width="1" height="3" fill="#ff0000"/>
<rect x="641" y="72" width="1" height="3" fill="#ff0000"/>
<rect x="651" y="72" width="1" height="6" fill="#ff0000"/>
<rect x="662" y="72" width="1" height="3" fill="#ff0000"/>
<rect x="672" y="72" width="1" height="3" fill="#ff0000"/>
<rect x="682" y="72" width="1" height="3" fill="#ff0000"/>
<rect x="693" y="72" width="1" height="6" fill="#ff0000"/>
<rect x="703" y="72" width="1" height="3" fill="#ff0000"/>
<rect x="714" y="72" width="1" height="3" fill="#ff0000"/>
<rect x="724" y="72" width="1" height="3" fill="#ff0000"/>
<rect x="734" y="72" width="1" height="6" fill="#ff0000"/>
<rect x="745" y="72" width="1" height="3" fill="#ff0000"/>
<rect x="755" y="72" width="1" height="3" fill="#ff0000"/>
<rect x="766" y="72" width="1" height="3" fill="#ff0000"/>
<rect x="776" y="72" width="1" height="6" fill="#ff0000"/>
<rect x="267" y="15" width="8" height="1" fill="#000000"/>
<rect x="291" y="15" width="9" height="1" fill="#000000"/>
<rect x="366" y="15" width="9" height="1" fill="#000000"/>
</g>
<g id="texts">
<text id="t1a1" x="243.40" y="16.00" font-size="14.00" fill="#000000" textLength="23.60" lengthAdjust="spacingAndGlyphs">VAD</text>
<text id="t1a2" x="275.00" y="16.00" font-size="14.00" fill="#000000" textLength="16.00" lengthAdjust="spacingAndGlyphs">08</text>
<text id="t1a3" x="300.40" y="16.00" font-size="14.00" fill="#000000" textLength="65.60" lengthAdjust="spacingAndGlyphs">20150620</text>
<text id="t1a4" x="375.00" y="16.00" font-size="14.00" fill="#000000" textLength="52.60" lengthAdjust="spacingAndGlyphs">030030,</text>
<text id="t1b" x="435.40" y="16.00" font-size="14.00" fill="#000000" textLength="121.60" lengthAdjust="spacingAndGlyphs">20150620.030048</text>
<text id="t2_0" x="102.50" y="32.00" font-size="14.00" fill="#000000" textLength="52.50" lengthAdjust="spacingAndGlyphs">Nbeams</text>
<text id="t2_1" x="162.50" y="32.00" font-size="14.00" fill="#000000" textLength="11.00" lengthAdjust="spacingAndGlyphs">=</text>
<text id="t2_2" x="180.40" y="32.00" font-size="14.00" fill="#000000" textLength="13.60" lengthAdjust="spacingAndGlyphs">8,</text>
<text id="t2_3" x="200.00" y="32.00" font-size="14.00" fill="#000000" textLength="57.50" lengthAdjust="spacingAndGlyphs">Elevation</text>
<text id="t2_4" x="264.00" y="32.00" font-size="14.00" fill="#000000" textLength="36.00" lengthAdjust="spacingAndGlyphs">angle</text>
<text id="t2_5" x="306.50" y="32.00" font-size="14.00" fill="#000000" textLength="10.50" lengthAdjust="spacingAndGlyphs">=</text>
<text id="t2_6" x="323.60" y="32.00" font-size="14.00" fill="#000000" textLength="38.90" lengthAdjust="spacingAndGlyphs">70.0°,</text>
<text id="t2_7" x="369.00" y="32.00" font-size="14.00" fill="#000000" textLength="31.60" lengthAdjust="spacingAndGlyphs">scan</text>
<text id="t2_8" x="406.60" y="32.00" font-size="14.00" fill="#000000" textLength="54.00" lengthAdjust="spacingAndGlyphs">duration</text>
<text id="t2_9" x="467.40" y="32.00" font-size="14.00" fill="#000000" textLength="10.20" lengthAdjust="spacingAndGlyphs">=</text>
<text id="t2_10" x="485.40" y="32.00" font-size="14.00" fill="#000000" textLength="29.60" lengthAdjust="spacingAndGlyphs">31.2</text>
<text id="t2_11" x="520.50" y="32.00" font-size="14.00" fill="#000000" textLength="12.00" lengthAdjust="spacingAndGlyphs">s,</text>
<text id="t2_12" x="538.60" y="32.00" font-size="14.00" fill="#000000" textLength="27.80" lengthAdjust="spacingAndGlyphs">SNR</text>
<text id="t2_13" x="571.60" y="32.00" font-size="14.00" fill="#000000" textLength="64.00" lengthAdjust="spacingAndGlyphs">Threshold</text>
<text id="t2_14" x="642.40" y="32.00" font-size="14.00" fill="#000000" textLength="10.10" lengthAdjust="spacingAndGlyphs">=</text>
<text id="t2_15" x="659.00" y="32.00" font-size="14.00" fill="#000000" textLength="37.50" lengthAdjust="spacingAndGlyphs">0.008</text>
<text id="wdir1" x="104.80" y="54.00" font-size="14.00" fill="#ff0000" textLength="29.80" lengthAdjust="spacingAndGlyphs">Wind</text>
<text id="wdir2" x="140.40" y="54.00" font-size="14.00" fill="#ff0000" textLength="57.40" lengthAdjust="spacingAndGlyphs">Direction</text>
<text id="wdir3" x="204.00" y="54.00" font-size="14.00" fill="#ff0000" textLength="37.20" lengthAdjust="spacingAndGlyphs">(deg)</text>
<text id="vv1a" x="354.50" y="54.00" font-size="14.00" fill="#ff0000" textLength="49.50" lengthAdjust="spacingAndGlyphs">Vertical</text>
<text id="vv1b" x="410.80" y="54.00" font-size="14.00" fill="#ff0000" textLength="47.20" lengthAdjust="spacingAndGlyphs">velocity</text>
<text id="vv2" x="464.20" y="54.00" font-size="14.00" fill="#ff0000" textLength="26.60" lengthAdjust="spacingAndGlyphs">(ms</text>
<text id="vv3" x="491.00" y="48.00" font-size="8.50" fill="#ff0000" textLength="10.80" lengthAdjust="spacingAndGlyphs" stroke="none">−1</text>
<text id="vv4" x="503.00" y="54.00" font-size="14.00" fill="#ff0000" textLength="6.40" lengthAdjust="spacingAndGlyphs">)</text>
<text id="corr" x="635.80" y="54.00" font-size="14.00" fill="#ff0000" textLength="71.70" lengthAdjust="spacingAndGlyphs">Correlation</text>
<text id="tn0" x="44.00" y="66.00" font-size="14.00" fill="#ff0000" textLength="9.00" lengthAdjust="spacingAndGlyphs">0</text>
<text id="tn1" x="104.40" y="66.00" font-size="14.00" fill="#ff0000" textLength="25.60" lengthAdjust="spacingAndGlyphs">100</text>
<text id="tn2" x="172.50" y="66.00" font-size="14.00" fill="#ff0000" textLength="26.50" lengthAdjust="spacingAndGlyphs">200</text>
<text id="tn3" x="242.00" y="66.00" font-size="14.00" fill="#ff0000" textLength="26.00" lengthAdjust="spacingAndGlyphs">300</text>
<text id="tn4" x="314.00" y="66.00" font-size="14.00" fill="#ff0000" textLength="28.00" lengthAdjust="spacingAndGlyphs">−10</text>
<text id="tn5" x="371.00" y="66.00" font-size="14.00" fill="#ff0000" textLength="19.00" lengthAdjust="spacingAndGlyphs">−5</text>
<text id="tn6" x="428.50" y="66.00" font-size="14.00" fill="#ff0000" textLength="8.50" lengthAdjust="spacingAndGlyphs">0</text>
<text id="tn7" x="479.40" y="66.00" font-size="14.00" fill="#ff0000" textLength="9.60" lengthAdjust="spacingAndGlyphs">5</text>
<text id="tn8" x="529.00" y="66.00" font-size="14.00" fill="#ff0000" textLength="15.50" lengthAdjust="spacingAndGlyphs">10</text>
<text id="tn9" x="557.20" y="66.00" font-size="14.00" fill="#ff0000" textLength="21.80" lengthAdjust="spacingAndGlyphs">0.0</text>
<text id="tn10" x="598.80" y="66.00" font-size="14.00" fill="#ff0000" textLength="21.00" lengthAdjust="spacingAndGlyphs">0.2</text>
<text id="tn11" x="640.60" y="66.00" font-size="14.00" fill="#ff0000" textLength="21.40" lengthAdjust="spacingAndGlyphs">0.4</text>
<text id="tn12" x="682.20" y="66.00" font-size="14.00" fill="#ff0000" textLength="21.80" lengthAdjust="spacingAndGlyphs">0.6</text>
<text id="tn13" x="724.00" y="66.00" font-size="14.00" fill="#ff0000" textLength="20.80" lengthAdjust="spacingAndGlyphs">0.8</text>
<text id="tn14" x="765.80" y="66.00" font-size="14.00" fill="#ff0000" textLength="21.70" lengthAdjust="spacingAndGlyphs">1.0</text>
<text id="ln0" x="23.50" y="81.00" font-size="14.00" fill="#000000" textLength="20.10" lengthAdjust="spacingAndGlyphs">2.0</text>
<text id="ln1" x="23.60" y="147.00" font-size="14.00" fill="#000000" textLength="20.00" lengthAdjust="spacingAndGlyphs">1.5</text>
<text id="ln2" x="24.20" y="217.00" font-size="12.60" fill="#000000" textLength="19.00" lengthAdjust="spacingAndGlyphs">1.0</text>
<text id="ln3" x="23.50" y="287.00" font-size="14.00" fill="#000000" textLength="20.10" lengthAdjust="spacingAndGlyphs">0.5</text>
<text id="ln4" x="23.50" y="352.00" font-size="14.00" fill="#000000" textLength="20.10" lengthAdjust="spacingAndGlyphs">0.0</text>
<text id="bn0" x="44.50" y="370.00" font-size="14.00" fill="#000000" textLength="8.00" lengthAdjust="spacingAndGlyphs">0</text>
<text id="bn1" x="106.00" y="370.00" font-size="14.00" fill="#000000" textLength="9.00" lengthAdjust="spacingAndGlyphs">5</text>
<text id="bn2" x="164.40" y="370.00" font-size="14.00" fill="#000000" textLength="15.60" lengthAdjust="spacingAndGlyphs">10</text>
<text id="bn3" x="227.00" y="370.00" font-size="14.00" fill="#000000" textLength="15.60" lengthAdjust="spacingAndGlyphs">15</text>
<text id="bn4" x="287.00" y="370.00" font-size="14.00" fill="#000000" textLength="17.50" lengthAdjust="spacingAndGlyphs">20</text>
<text id="bn5" x="309.40" y="370.00" font-size="14.00" fill="#000000" textLength="36.40" lengthAdjust="spacingAndGlyphs">0.001</text>
<text id="bn6" x="361.40" y="370.00" font-size="14.00" fill="#000000" textLength="37.20" lengthAdjust="spacingAndGlyphs">0.010</text>
<text id="bn7" x="413.20" y="370.00" font-size="14.00" fill="#000000" textLength="37.80" lengthAdjust="spacingAndGlyphs">0.100</text>
<text id="bn8" x="465.20" y="370.00" font-size="14.00" fill="#000000" textLength="37.60" lengthAdjust="spacingAndGlyphs">1.000</text>
<text id="bn9" x="513.60" y="370.00" font-size="14.00" fill="#000000" textLength="43.40" lengthAdjust="spacingAndGlyphs">10.000</text>
<text id="bn10" x="564.80" y="370.00" font-size="14.00" fill="#000000" textLength="8.00" lengthAdjust="spacingAndGlyphs">0</text>
<text id="bn11" x="604.80" y="370.00" font-size="14.00" fill="#000000" textLength="9.00" lengthAdjust="spacingAndGlyphs">2</text>
<text id="bn12" x="647.80" y="370.00" font-size="14.00" fill="#000000" textLength="7.70" lengthAdjust="spacingAndGlyphs">4</text>
<text id="bn13" x="688.20" y="370.00" font-size="14.00" fill="#000000" textLength="8.80" lengthAdjust="spacingAndGlyphs">6</text>
<text id="bn14" x="729.80" y="370.00" font-size="14.00" fill="#000000" textLength="9.00" lengthAdjust="spacingAndGlyphs">8</text>
<text id="bn15" x="768.80" y="370.00" font-size="14.00" fill="#000000" textLength="15.20" lengthAdjust="spacingAndGlyphs">10</text>
<text id="ws1a" x="109.60" y="386.00" font-size="14.00" fill="#000000" textLength="27.90" lengthAdjust="spacingAndGlyphs">Wind</text>
<text id="ws1b" x="144.40" y="386.00" font-size="14.00" fill="#000000" textLength="40.60" lengthAdjust="spacingAndGlyphs">Speed</text>
<text id="ws2" x="192.00" y="386.00" font-size="14.00" fill="#000000" textLength="24.50" lengthAdjust="spacingAndGlyphs">(ms</text>
<text id="ws3" x="217.40" y="379.00" font-size="8.50" fill="#000000" textLength="11.10" lengthAdjust="spacingAndGlyphs" stroke="none">−1</text>
<text id="ws4" x="229.50" y="386.00" font-size="14.00" fill="#000000" textLength="5.10" lengthAdjust="spacingAndGlyphs">)</text>
<text id="snr" x="419.00" y="386.00" font-size="14.00" fill="#000000" textLength="26.50" lengthAdjust="spacingAndGlyphs">SNR</text>
<text id="rs1" x="619.80" y="386.00" font-size="14.00" fill="#000000" textLength="53.60" lengthAdjust="spacingAndGlyphs">Residual</text>
<text id="rs2" x="681.00" y="386.00" font-size="14.00" fill="#000000" textLength="25.60" lengthAdjust="spacingAndGlyphs">(ms</text>
<text id="rs3" x="706.40" y="379.00" font-size="8.50" fill="#000000" textLength="11.80" lengthAdjust="spacingAndGlyphs" stroke="none">−1</text>
<text id="rs4" x="718.40" y="386.00" font-size="14.00" fill="#000000" textLength="5.80" lengthAdjust="spacingAndGlyphs">)</text>
<text id="plot0" x="585.20" y="396.00" font-size="9.50" fill="#000000" textLength="16.80" lengthAdjust="spacingAndGlyphs" stroke="#000" stroke-width="0.18">Plot</text>
<text id="plot1" x="607.80" y="396.00" font-size="9.50" fill="#000000" textLength="35.60" lengthAdjust="spacingAndGlyphs" stroke="#000" stroke-width="0.18">created</text>
<text id="plot2" x="648.00" y="396.00" font-size="9.50" fill="#000000" textLength="10.80" lengthAdjust="spacingAndGlyphs" stroke="#000" stroke-width="0.18">on</text>
<text id="plot3" x="663.80" y="396.00" font-size="9.50" fill="#000000" textLength="18.40" lengthAdjust="spacingAndGlyphs" stroke="#000" stroke-width="0.18">Mon</text>
<text id="plot4" x="686.00" y="396.00" font-size="9.50" fill="#000000" textLength="15.00" lengthAdjust="spacingAndGlyphs" stroke="#000" stroke-width="0.18">Oct</text>
<text id="plot5" x="706.00" y="396.00" font-size="9.50" fill="#000000" textLength="12.00" lengthAdjust="spacingAndGlyphs" stroke="#000" stroke-width="0.18">12</text>
<text id="plot6" x="722.80" y="396.00" font-size="9.50" fill="#000000" textLength="41.00" lengthAdjust="spacingAndGlyphs" stroke="#000" stroke-width="0.18">20:28:40</text>
<text id="plot7" x="768.00" y="396.00" font-size="9.50" fill="#000000" textLength="23.80" lengthAdjust="spacingAndGlyphs" stroke="#000" stroke-width="0.18">2015</text>
<g transform="translate(0,0) rotate(-90)"><text id="zl1" x="-248.90" y="12.00" font-size="14.00" fill="#000000" textLength="6.15" lengthAdjust="spacingAndGlyphs">z</text></g>
<g transform="translate(0,0) rotate(-90)"><text id="zl2" x="-235.80" y="12.00" font-size="14.00" fill="#000000" textLength="25.60" lengthAdjust="spacingAndGlyphs">(km</text></g>
<g transform="translate(0,0) rotate(-90)"><text id="zl3" x="-204.00" y="12.00" font-size="14.00" fill="#000000" textLength="30.00" lengthAdjust="spacingAndGlyphs">AGL)</text></g>
</g>
</svg>
</body></html>
